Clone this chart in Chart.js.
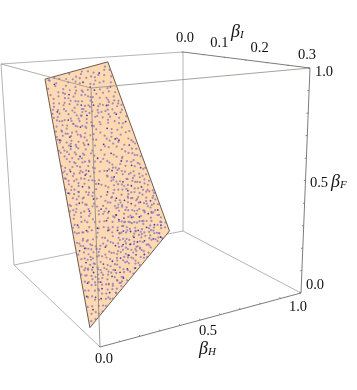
<!DOCTYPE html>
<html><head><meta charset="utf-8">
<style>html,body{margin:0;padding:0;background:#fff}canvas{display:block}</style>
<script src="https://cdn.jsdelivr.net/npm/chart.js@4"></script>
</head><body><canvas id="c" width="357" height="390"></canvas>
<script>
// Axis tick values
const hLabels=[0,0.5,1];
const iLabels=[0,0.1,0.2,0.3];
const fLabels=[0,0.5,1];
const hMinor=[0,0.1,0.2,0.3,0.4,0.5,0.6,0.7,0.8,0.9,1];
const iMinor=[0,0.05,0.1,0.15,0.2,0.25,0.3];
const fMinor=[0,0.1,0.2,0.3,0.4,0.5,0.6,0.7,0.8,0.9,1];
// Feasible sheet: corners as [beta_H, beta_I, beta_F]
const sheetCorners=[[0,0.146,0.985],[0.48,0.054,1],[0.92,0,0.015],[0,0.266,0.04]];
// Sample points: flat across,along pairs (per mille of the sheet)
const dotsDark=[127,31,553,62,823,44,309,93,683,117,91,142,447,158,914,133,221,194,612,183,783,214,364,247,52,253,521,268,871,279,183,301,702,318,413,336,953,341,274,362,604,377,113,394,802,405,486,417,341,442,663,437,33,466,902,461,224,483,561,497,754,503,423,521,144,534,621,545,323,563,853,558,502,582,243,594,704,596,73,607,941,603,382,626,582,638,781,644,163,655,463,662,662,677,293,684,882,689,533,703,104,712,723,717,402,731,604,745,821,748,233,756,503,767,684,773,333,782,924,786,562,793,764,804,152,807,443,816,634,824,861,829,272,836,523,843,713,852,372,861,964,857,594,872,803,877,463,883,204,889,672,894,884,902,553,907,333,914,743,921,423,933,624,937,943,935,503,951,832,954,272,962,703,973,583,984,903,981,442,968,381,905,652,861,547,731,412,689,728,651,618,512,287,447,762,388,194,263,488,213,636,96,
 62,842,118,921,41,703,173,948,88,766,26,884,149,828,67,953,203,917];
const dotsFaint=[52,8,214,15,381,6,473,27,668,19,743,33,934,21,23,41,293,52,617,47,884,63,162,68,426,71,735,74,973,82,74,87,253,84,505,96,592,104,846,93,141,113,367,109,761,124,34,127,286,133,537,121,634,146,873,152,193,143,417,137,952,171,63,174,332,176,494,169,724,163,814,178,134,186,264,204,573,207,673,198,407,201,904,209,21,214,176,224,472,228,746,237,842,246,103,243,304,232,593,238,976,249,213,262,438,264,687,258,783,274,932,283,12,291,137,277,343,287,563,294,634,283,254,316,468,304,824,307,74,324,527,337,756,334,984,318,168,348,366,349,646,343,885,356,292,374,444,371,724,367,37,378,213,391,553,393,842,386,957,397,376,408,655,404,132,417,752,426,264,429,512,441,917,428,62,436,424,449,593,457,803,454,184,458,716,469,316,477,973,474,472,476,103,486,641,488,864,493,385,497,252,513,544,516,23,512,703,527,924,524,153,507,453,534,784,538,334,537,604,553,84,556,213,557,983,552,524,567,726,564,414,578,884,574,293,587,643,588,134,589,794,586,563,607,344,603,453,609,24,623,193,628,674,626,903,623,264,636,503,634,746,627,834,643,113,648,414,647,613,659,974,654,333,668,544,664,723,667,224,672,53,677,883,663,434,684,623,687,793,682,143,694,364,703,573,697,953,706,693,698,263,714,474,716,843,707,644,719,193,727,784,723,323,736,543,738,913,729,83,747,443,754,713,746,983,752,283,759,606,764,853,767,374,768,173,776,763,769,514,784,654,786,954,783,243,788,424,797,824,794,94,798,604,806,314,809,724,817,503,813,903,814,204,826,383,827,574,836,793,838,984,834,454,846,664,848,314,856,123,847,873,857,543,866,753,864,423,878,244,873,943,876,633,887,843,886,363,897,503,894,723,893,163,903,603,916,913,917,433,914,813,926,283,927,683,928,533,938,373,948,753,946,883,947,603,956,443,964,973,963,663,967,783,976,523,974,333,987,863,983,633,993,723,996,473,992,
 318,24,577,12,136,39,802,52,447,48,698,89,239,101,941,112,59,118,483,116,346,157,788,147,603,141,241,171,915,188,97,182,544,173,366,209,807,216,649,227,174,246,521,252,941,233,45,262,306,271,735,296,408,283,856,268,87,302,604,318,217,333,914,341,495,358,148,382,689,379,321,395,788,411,36,409,581,423,945,446,228,448,402,463,833,475,118,471,668,512,284,524,497,552,965,503,56,541,758,561,362,572,183,579,594,578,846,613,229,611,684,603,476,624,72,639,931,646,393,651,585,671,175,663,807,668,305,689,708,681,496,697,116,716,866,726,412,721,231,744,572,749,758,741,946,741,348,781,679,761,151,763,495,799,881,797,276,803,634,811,54,786,752,821,408,836,556,851,948,813,192,852,706,873,479,861,342,872,837,909,592,898,278,906,413,893,968,902,766,905,518,923,649,908,902,958,358,928,708,958,464,936,576,981,812,949,405,974,690,984,
 66,11,158,29,415,34,553,22,692,48,909,36,39,68,228,77,502,62,786,91,651,81,312,121,118,153,588,157,437,189,702,192,869,134,276,219,621,239,27,248,188,291,774,259,891,304,355,318,513,307,661,362,247,368,456,397,12,379,721,402,823,354,168,439,303,446,613,471,77,463,917,486,528,488,781,489,196,527,437,508,661,537,893,543,316,548,43,573,578,551,752,597,248,606,413,621,126,608,963,618,528,618,648,643,344,638,824,617,451,665,203,652,738,694,99,678,551,677,925,686,284,702,419,733,618,729,804,744,175,739,513,757,701,778,318,761,881,768,439,771,251,775,577,773,986,768,128,789,671,797,362,813,831,809,539,822,229,846,782,849,475,835,683,842,309,883,895,835,601,873,439,854,526,889,737,883,184,881,664,912,857,921,383,919,572,927,956,924,462,949,797,933,319,951,691,944,596,968,882,972,404,988,748,986,551,996,
 144,6,339,41,521,39,744,58,985,46,402,98,694,138,27,159,571,133,829,203,221,119,957,221,463,179,631,271,98,221,745,283,393,246,296,301,542,274,868,328,173,311,489,328,613,389,742,351,128,356,912,391,349,421,786,391,62,395,552,436,245,402,446,423,689,451,158,489,846,443,299,503,587,497,958,459,379,534,732,512,108,531,633,572,238,584,486,591,817,587,928,571,39,597,351,624,704,618,168,614,564,644,441,642,279,653,856,651,615,671,92,699,386,683,759,671,508,706,938,669,217,709,672,731,144,726,351,747,814,718,462,736,595,762,893,754,268,768,732,759,401,784,538,791,68,812,641,778,171,797,976,801,319,824,783,807,476,818,897,842,586,809,233,859,691,829,354,844,823,852,428,868,648,854,507,845,144,868,938,846,294,867,766,887,559,879,391,882,698,902,871,911,483,902,637,923,334,898,539,912,935,948,259,943,776,962,428,956,625,978,851,966,505,958,393,969,913,993];
const dotsLower=[14,602,47,634,81,618,122,651,29,667,63,689,106,673,157,694,18,712,44,738,88,724,134,746,176,718,31,764,69,783,112,762,149,774,193,757,12,791,53,808,97,794,138,813,181,803,224,786,36,827,76,843,119,832,161,851,204,834,247,818,21,858,58,871,101,864,143,879,187,869,229,881,272,853,39,892,83,904,126,896,168,911,212,903,254,918,297,892,17,923,64,938,107,927,149,943,193,934,236,951,281,929,324,944,44,961,91,972,134,963,178,979,221,968,264,986,307,961,353,978,26,984,73,994,118,989,162,997,206,992,249,973,292,996,337,991,378,952,421,974,14,536,57,561,96,546,141,574,183,541,227,563,272,531,316,582,36,519,78,497,122,512,167,493,211,527,256,478,301,508,346,467,392,513,9,447,48,471,91,452,134,438,178,469,223,424,268,459,312,432,358,488,403,441,24,404,67,423,109,386,152,411,197,376,242,418,287,391,331,367,376,402,421,379,11,352,54,367,96,339,139,327,183,369,228,344,273,326,318,358,362,329,407,316,33,302,76,287,118,313,161,294,206,281,251,307,296,256,341,279,387,298,432,257,19,236,62,257,104,226,147,241,191,213,236,251,281,219,326,238,371,221,416,203,461,244,41,197,84,163,127,203,171,187,216,154,261,193,306,164,351,192,396,149,441,176,486,193,531,208,18,142,63,104,107,137,153,84,198,127,243,62,289,107,334,76,379,131,424,88,469,143,514,104,559,183,604,167,648,214,692,231,737,203,781,236,826,191,871,219,915,244,959,273,
 548,521,592,539,637,503,681,528,726,547,771,494,816,523,861,541,906,507,951,534,538,618,583,597,628,611,673,583,718,638,763,602,808,627,853,591,898,641,943,583,988,622,528,702,573,681,618,693,663,713,708,674,753,699,798,722,843,681,888,708,933,727,978,694,518,788,563,769,608,792,653,758,698,803,743,779,788,771,833,801,878,782,923,809,968,777,508,862,553,839,598,851,643,879,688,846,733,869,778,832,823,891,868,873,913,846,958,883,498,918,543,904,588,938,633,912,678,931,723,918,768,951,813,907,858,936,903,961,948,917,993,946];
// Box outline in picture space: camera view of the eight corners, keyed by beta_H, beta_I, beta_F (low/high)
const view={ '000':[14,265],'001':[1,64],'010':[100,347],'011':[91,88],'100':[183,231],'101':[183,52],'110':[301,293],'111':[310,68] };
const I_MAX=0.3;
function project(h,i,f){
  const a=h,b=i/I_MAX,c=f;let x=0,y=0;
  for(const A of [0,1])for(const B of [0,1])for(const C of [0,1]){
    const w=(A?a:1-a)*(B?b:1-b)*(C?c:1-c),p=view[''+A+B+C];x+=w*p[0];y+=w*p[1];
  }
  return {x,y};
}
const gap={x:NaN,y:NaN};
function edge(a,b){return [project(...a),project(...b)];}
const [sp,sq,sr,ss]=sheetCorners.map(c=>project(...c));
function sheetPoints(flat){
  const o=[];
  for(let k=0;k+1<flat.length;k+=2){
    const u=flat[k]/1000,v=flat[k+1]/1000;
    o.push({x:(1-v)*((1-u)*sp.x+u*sq.x)+v*((1-u)*ss.x+u*sr.x),
            y:(1-v)*((1-u)*sp.y+u*sq.y)+v*((1-u)*ss.y+u*sr.y)});
  }
  return o;
}
function ticks(vals,fn){const o=[];vals.forEach(t=>{const [a,b]=fn(t);o.push(project(...a),project(...b),gap);});return o;}
const lineDs=(data,color,order,width=1)=>({type:'scatter',data,showLine:true,borderColor:color,borderWidth:width,pointRadius:0,tension:0,fill:false,order,spanGaps:false});
const dotDs=(arr,color,order,r)=>({type:'scatter',data:sheetPoints(arr),showLine:false,pointRadius:r,pointBorderWidth:0,pointBackgroundColor:color,order});
const LIGHT='#b4b4b4',DARK='#7c7c7c';
const polygon=sheetCorners.concat([sheetCorners[0]]).map(p=>project(...p));
const datasets=[
 lineDs(edge([0,0,0],[1,0,0]),LIGHT,7),
 lineDs(edge([1,0,0],[1,0,1]),LIGHT,7),
 Object.assign(lineDs(polygon,'#6b5b50',6),{fill:'shape',backgroundColor:'#ffd9b2'}),
 dotDs(dotsFaint,'rgba(108,100,188,0.66)',5,1.1),
 dotDs(dotsLower,'rgba(108,100,188,0.66)',5,1.1),
 dotDs(dotsDark,'rgba(46,44,170,0.9)',4,0.9),
 lineDs(edge([0,0,1],[0,0.3,1]),'rgba(150,145,140,0.75)',3),
 lineDs(edge([0,0.3,1],[1,0.3,1]),'rgba(150,145,140,0.85)',3),
 lineDs(edge([0,0.3,1],[0,0.3,0]),'rgba(140,135,130,0.85)',3),
 lineDs(edge([0,0,1],[1,0,1]),LIGHT,3),
 lineDs(edge([0,0,1],[0,0,0]),LIGHT,3),
 lineDs(edge([0,0,0],[0,0.3,0]),LIGHT,3),
 lineDs(edge([1,0,0],[1,0.3,0]),LIGHT,3),
 lineDs(edge([0,0.3,0],[1,0.3,0]),DARK,2),
 lineDs(edge([1,0,1],[1,0.3,1]),DARK,2),
 lineDs(edge([1,0.3,0],[1,0.3,1]),DARK,2),
 lineDs(ticks(hMinor,t=>[[t,0.3,0],[t,0.296,0]]),DARK,2),
 lineDs(ticks(iMinor,t=>[[1,t,1],[0.992,t,1]]),DARK,2),
 lineDs(ticks(fMinor,t=>[[1,0.3,t],[0.992,0.3,t]]),DARK,2)
];
const NUM='14.5px "Liberation Serif"';
const tickText=[
 ...hLabels.map((v,k)=>({p:project(v,0.3,0),d:[[4,12],[7.5,11],[-3,14]][k],t:v.toFixed(1)})),
 ...iLabels.map((v,k)=>({p:project(1,v,1),d:[[2,-14],[-6,-14],[-8,-14],[-3,-13]][k],t:v.toFixed(1)})),
 ...fLabels.map((v,k)=>({p:project(1,0.3,v),d:[[14,-8],[13.5,2.5],[14,4]][k],t:v.toFixed(1)}))
];
const titles=[{b:'H',at:[208,349]},{b:'I',at:[240,32]},{b:'F',at:[340,182]}];
const textPlugin={id:'boxText',afterDatasetsDraw(ch){
  const c=ch.ctx;c.save();c.fillStyle='#111';c.textBaseline='middle';c.textAlign='center';c.font=NUM;
  const X=ch.scales.x,Y=ch.scales.y;
  tickText.forEach(o=>c.fillText(o.t,X.getPixelForValue(o.p.x)+o.d[0],Y.getPixelForValue(o.p.y)+o.d[1]));
  titles.forEach(o=>{
    c.textAlign='left';
    c.font='italic 18px "Liberation Serif"';
    const w=c.measureText('β').width,sw=9;
    const x0=o.at[0]-(w+sw)/2;
    c.fillText('β',x0,o.at[1]);
    c.font='italic 11px "Liberation Serif"';
    c.fillText(o.b,x0+w,o.at[1]+3.5);
  });
  c.restore();
}};
new Chart(document.getElementById('c'),{type:'scatter',data:{datasets},plugins:[textPlugin],options:{
  responsive:false,animation:false,events:[],
  layout:{padding:0,autoPadding:false},
  plugins:{legend:{display:false},tooltip:{enabled:false},title:{display:false}},
  scales:{x:{type:'linear',display:false,min:0,max:357},y:{type:'linear',display:false,min:0,max:390,reverse:true}}
}});
</script></body></html>
